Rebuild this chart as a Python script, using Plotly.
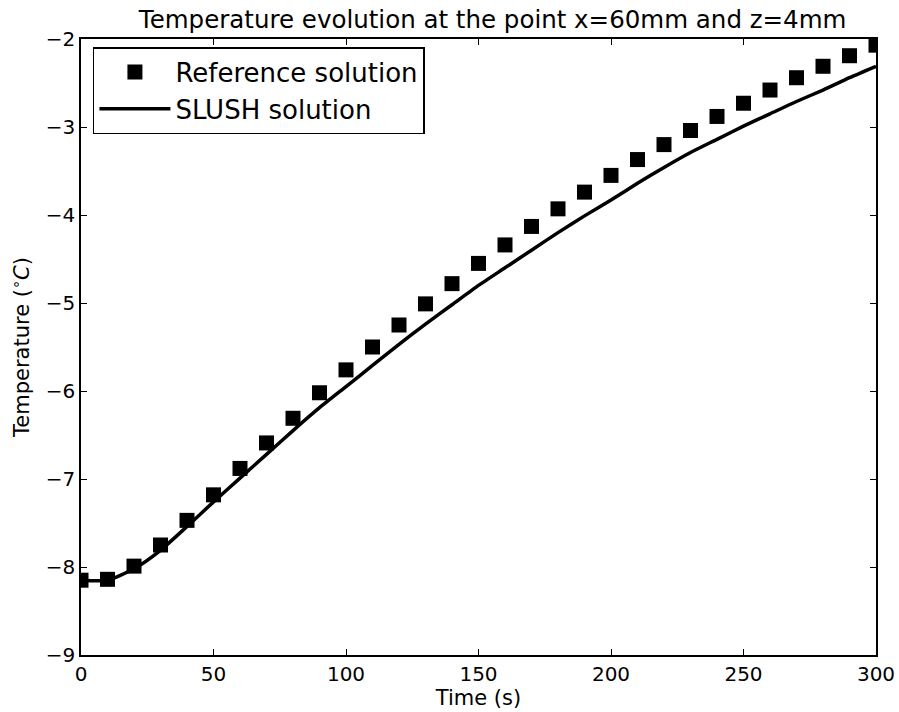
import plotly.graph_objects as go

# time samples (s)
time_ref = [0, 10, 20, 30, 40, 50, 60, 70, 80, 90, 100, 110, 120, 130, 140, 150,
            160, 170, 180, 190, 200, 210, 220, 230, 240, 250, 260, 270, 280, 290, 300]
temp_ref = [-8.15, -8.14, -7.99, -7.75, -7.47, -7.18, -6.88, -6.59, -6.31, -6.02,
            -5.76, -5.50, -5.25, -5.01, -4.78, -4.55, -4.34, -4.13, -3.93, -3.74,
            -3.55, -3.37, -3.20, -3.04, -2.88, -2.73, -2.58, -2.44, -2.31, -2.19, -2.07]

time_slush = time_ref
temp_slush = [-8.15, -8.15, -8.02, -7.81, -7.54, -7.26, -6.99, -6.72, -6.45, -6.19,
              -5.95, -5.71, -5.47, -5.24, -5.02, -4.80, -4.60, -4.40, -4.20, -4.01,
              -3.83, -3.64, -3.46, -3.29, -3.14, -2.99, -2.85, -2.71, -2.58, -2.44, -2.31]

font = "DejaVu Sans"

fig = go.Figure()
fig.add_trace(go.Scatter(
    x=time_ref, y=temp_ref, mode="markers", name="Reference solution",
    marker=dict(symbol="square", size=15, color="black"),
))
fig.add_trace(go.Scatter(
    x=time_slush, y=temp_slush, mode="lines", name="SLUSH solution",
    line=dict(color="black", width=3.5, shape="spline", smoothing=0.6),
))

axis_common = dict(
    showline=True, linecolor="black", linewidth=1.5, mirror="allticks",
    ticks="inside", ticklen=6, tickwidth=1, tickcolor="black",
    showgrid=False, zeroline=False, automargin=False,
    tickfont=dict(family=font, size=20, color="black"),
)

fig.update_xaxes(range=[0, 300], dtick=50,
                 title=dict(text="Time (s)", font=dict(family=font, size=21, color="black"),
                            standoff=3),
                 **axis_common)
fig.update_yaxes(range=[-9, -2], dtick=1,
                 title=dict(text="Temperature (<sup>∘</sup><i>C</i>)",
                            font=dict(family=font, size=21, color="black"), standoff=10),
                 **axis_common)

fig.update_layout(
    width=899, height=712,
    margin=dict(l=81, r=23, t=39, b=57),
    paper_bgcolor="white", plot_bgcolor="white",
    title=dict(text="Temperature evolution at the point x=60mm and z=4mm",
               font=dict(family=font, size=24.5, color="black"),
               x=0.548, xanchor="center", y=0.973, yanchor="middle"),
    legend=dict(x=0.015, y=0.987, xanchor="left", yanchor="top",
                bordercolor="black", borderwidth=1.5, bgcolor="white",
                font=dict(family=font, size=26, color="black"),
                itemwidth=71, tracegroupgap=0),
    showlegend=True,
)

# drop the default page margin so the figure fills the window
fig.write_html("out.html", config={"displayModeBar": False},
               post_script="document.body.style.margin='0';")
